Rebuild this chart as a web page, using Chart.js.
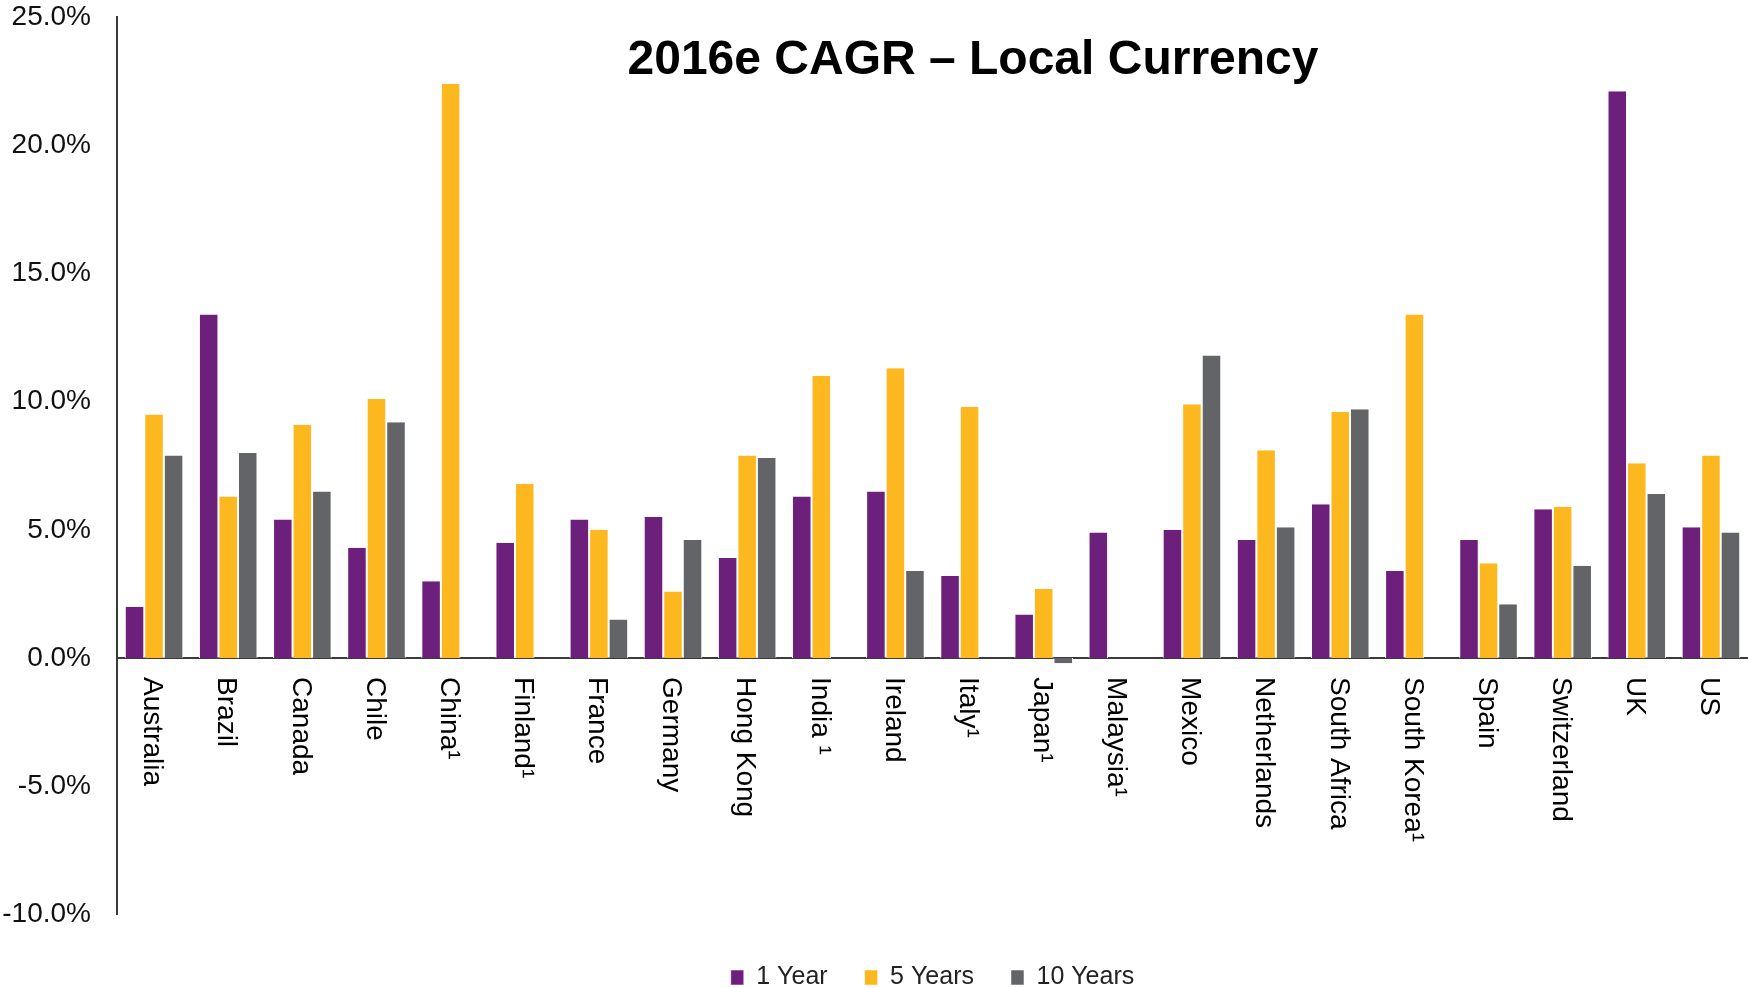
<!DOCTYPE html>
<html>
<head>
<meta charset="utf-8">
<script src="https://cdn.jsdelivr.net/npm/chart.js"></script>
<style type="text/css">
  html, body{
    margin: 0;
    padding: 0;
    overflow: hidden;
    background: #fff;
  }
  #wrap{
    position: relative;
    width: 1748px;
    height: 1000px;
  }
</style>
</head>
<body>
<div id="wrap">
  <canvas id="cagrChart"></canvas>
</div>

<script>
  // values (% CAGR, local currency)
  const countries = ['Australia', 'Brazil', 'Canada', 'Chile', 'China¹', 'Finland¹', 'France', 'Germany',
    'Hong Kong', 'India ¹', 'Ireland', 'Italy¹', 'Japan¹', 'Malaysia¹', 'Mexico', 'Netherlands',
    'South Africa', 'South Korea¹', 'Spain', 'Switzerland', 'UK', 'US'];
  const oneYear   = [2.0, 13.4, 5.4, 4.3, 3.0, 4.5, 5.4, 5.5, 3.9, 6.3, 6.5, 3.2, 1.7, 4.9, 5.0, 4.6, 6.0, 3.4, 4.6, 5.8, 22.1, 5.1];
  const fiveYears = [9.5, 6.3, 9.1, 10.1, 22.4, 6.8, 5.0, 2.6, 7.9, 11.0, 11.3, 9.8, 2.7, null, 9.9, 8.1, 9.6, 13.4, 3.7, 5.9, 7.6, 7.9];
  const tenYears  = [7.9, 8.0, 6.5, 9.2, null, null, 1.5, 4.6, 7.8, null, 3.4, null, -0.2, null, 11.8, 5.1, 9.7, null, 2.1, 3.6, 6.4, 4.9];
  const seriesNames = ['1 Year', '5 Years', '10 Years'];
  const yTicks = [-10, -5, 0, 5, 10, 15, 20, 25];
  const chartTitle = '2016e CAGR \u2013 Local Currency';

  const PURPLE = '#6d1f7c';
  const GOLD = '#fdb81f';
  const GREY = '#626468';
  const FONT = '"Liberation Sans", Arial, sans-serif';

  // title sits inside the plot, not above it
  const titlePlugin = {
    id: 'overlayTitle',
    afterDraw(chart){
      const ctx = chart.ctx;
      ctx.save();
      ctx.font = 'bold 48px ' + FONT;
      ctx.fillStyle = '#000';
      ctx.textAlign = 'center';
      ctx.textBaseline = 'middle';
      ctx.fillText(chartTitle, 973, 61);
      ctx.restore();
    }
  };

  // category names hang under the zero line, reading top to bottom
  const catLabels = {
    id: 'catLabels',
    afterDraw(chart){
      const ctx = chart.ctx;
      const xs = chart.scales.x;
      const y0 = chart.scales.y.getPixelForValue(0);
      ctx.save();
      ctx.font = '28px ' + FONT;
      ctx.fillStyle = '#000';
      ctx.textAlign = 'left';
      ctx.textBaseline = 'middle';
      countries.forEach((c, i) => {
        ctx.save();
        ctx.translate(xs.getPixelForValue(i) - 2, y0 + 19);
        ctx.rotate(Math.PI / 2);
        ctx.fillText(c, 0, 0);
        ctx.restore();
      });
      ctx.restore();
    }
  };

  const barStyle = {
    borderColor: '#fff',
    borderWidth: {left: 1, right: 1, top: 0, bottom: 0},
    borderSkipped: false,
    categoryPercentage: 0.79,
    barPercentage: 1.0
  };

  new Chart(document.getElementById('cagrChart'), {
    type: 'bar',
    data: {
      labels: countries,
      datasets: [
        Object.assign({label: seriesNames[0], data: oneYear, backgroundColor: PURPLE}, barStyle),
        Object.assign({label: seriesNames[1], data: fiveYears, backgroundColor: GOLD}, barStyle),
        Object.assign({label: seriesNames[2], data: tenYears, backgroundColor: GREY}, barStyle)
      ]
    },
    options: {
      responsive: true,
      maintainAspectRatio: false,
      animation: false,
      layout: {
        padding: {top: 17, left: 0, right: 0, bottom: 0}
      },
      plugins: {
        tooltip: {enabled: false},
        legend: {
          position: 'bottom',
          fullSize: false,
          title: {display: true, text: '', font: {size: 10}, padding: {top: 1.5, bottom: 0}},
          labels: {
            boxWidth: 13,
            boxHeight: 15,
            padding: 37,
            color: '#222',
            font: {family: FONT, size: 25}
          }
        }
      },
      scales: {
        x: {
          position: {y: 0},
          grid: {display: false, drawTicks: false},
          border: {display: true, color: '#3a3a3a', width: 2},
          ticks: {display: false}
        },
        y: {
          min: -10,
          max: 25,
          afterBuildTicks(axis){
            axis.ticks = yTicks.map(v => ({value: v}));
          },
          afterFit(axis){
            axis.width = 117;
            axis.paddingTop = 0;
            axis.paddingBottom = 0;
          },
          grid: {display: false, drawTicks: false},
          border: {display: true, color: '#3a3a3a', width: 2},
          ticks: {
            padding: 26,
            color: '#111',
            font: {family: FONT, size: 28},
            callback: v => v.toFixed(1) + '%'
          }
        }
      }
    },
    plugins: [titlePlugin, catLabels]
  });
</script>
</body>
</html>
